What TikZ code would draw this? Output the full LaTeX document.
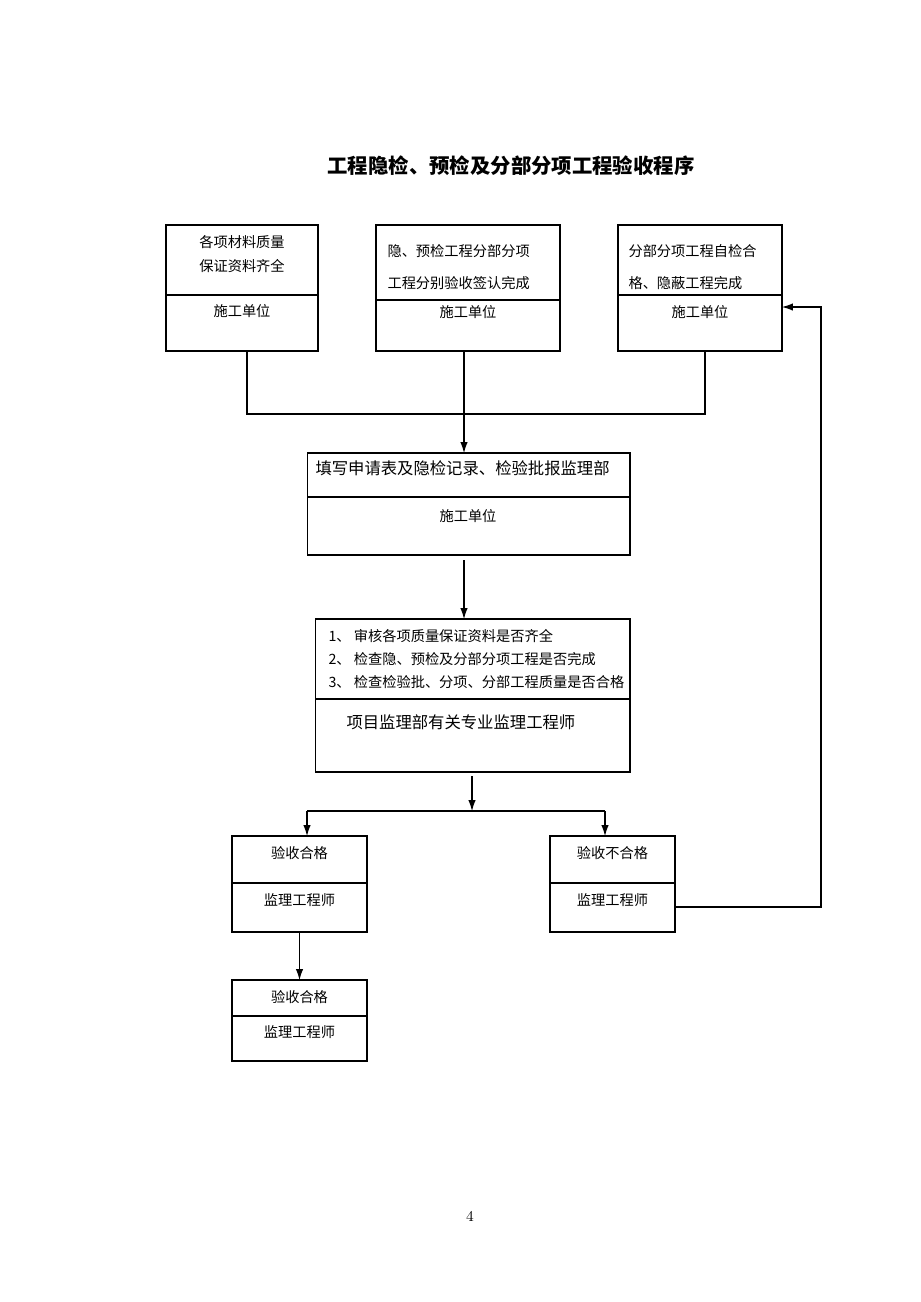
\documentclass[tikz,border=0pt]{standalone}
\usepackage{fontspec}
\usetikzlibrary{arrows.meta}
\newfontfamily\cjk{Noto Sans CJK SC}

\begin{document}
\begin{tikzpicture}[
  x=0.02cm, y=-0.02cm,
  box/.style={rectangle, draw, inner sep=0pt, outer sep=0pt},
  txt/.style={inner sep=0pt, font=\cjk\fontsize{8.1pt}{13.6pt}\selectfont},
  bigtxt/.style={inner sep=0pt, font=\cjk\fontsize{9.3pt}{13pt}\selectfont},
  >={Latex[length=2.2mm,width=1.5mm]},
  line width=0.6pt
]
\useasboundingbox (0,0) rectangle (920,1302);

% title
\node[font=\cjk\bfseries\fontsize{11.6pt}{13pt}\selectfont] (title) at (511,166) {工程隐检、预检及分部分项工程验收程序};

% top row
\node[box, minimum width=3.04cm, minimum height=2.52cm] (matl) at (242,288) {};
\node[box, minimum width=3.68cm, minimum height=2.52cm] (conf) at (468,288) {};
\node[box, minimum width=3.28cm, minimum height=2.52cm] (self) at (700,288) {};
\draw (matl.west |- 0,295) -- (matl.east |- 0,295);
\draw (conf.west |- 0,300) -- (conf.east |- 0,300);
\draw (self.west |- 0,295) -- (self.east |- 0,295);
\node[txt, align=center] (matlA) at (242,254) {各项材料质量\\保证资料齐全};
\node[txt] (matlB) at (242,311) {施工单位};
\node[txt, align=left, anchor=west, font=\cjk\fontsize{8.1pt}{18.1pt}\selectfont] (confA) at (387,267) {隐、预检工程分部分项\\工程分别验收签认完成};
\node[txt] (confB) at (468,312) {施工单位};
\node[txt, align=left, anchor=west, font=\cjk\fontsize{8.1pt}{18.1pt}\selectfont] (selfA) at (628,267) {分部分项工程自检合\\格、隐蔽工程完成};
\node[txt] (selfB) at (700,312) {施工单位};

% application
\node[box, minimum width=6.46cm, minimum height=2.04cm] (apply) at (468.5,504) {};
\draw (apply.west |- 0,497) -- (apply.east |- 0,497);
\node[bigtxt, anchor=west] (applyA) at (315,468) {填写申请表及隐检记录、检验批报监理部};
\node[txt] (applyB) at (468,516) {施工单位};

% check
\node[box, minimum width=6.30cm, minimum height=3.06cm] (check) at (472.5,695.5) {};
\draw (check.west |- 0,699) -- (check.east |- 0,699);
\node[txt, align=left, anchor=west, font=\cjk\fontsize{8.1pt}{13pt}\selectfont] (checkA) at (328,659) {1、\ 审核各项质量保证资料是否齐全\\2、\ 检查隐、预检及分部分项工程是否完成\\3、\ 检查检验批、分项、分部工程质量是否合格};
\node[bigtxt, anchor=west] (checkB) at (346,722) {项目监理部有关专业监理工程师};

% results
\node[box, minimum width=2.70cm, minimum height=1.92cm] (pass) at (299.5,884) {};
\node[box, minimum width=2.50cm, minimum height=1.92cm] (fail) at (612.5,884) {};
\node[box, minimum width=2.70cm, minimum height=1.62cm] (final) at (299.5,1020.5) {};
\draw (pass.west |- 0,883) -- (pass.east |- 0,883);
\draw (fail.west |- 0,883) -- (fail.east |- 0,883);
\draw (final.west |- 0,1016) -- (final.east |- 0,1016);
\node[txt] (passA) at (299.5,853) {验收合格};
\node[txt] (passB) at (299.5,900) {监理工程师};
\node[txt] (failA) at (612.5,853) {验收不合格};
\node[txt] (failB) at (612.5,900) {监理工程师};
\node[txt] (finalA) at (299.5,997) {验收合格};
\node[txt] (finalB) at (299.5,1032) {监理工程师};

% page number
\node[font=\fontsize{8.5pt}{10pt}\selectfont] (page) at (470,1216) {4};

% connectors
\coordinate (joinL) at (247,414);
\coordinate (joinM) at (464,414);
\coordinate (joinR) at (705,414);
\draw (joinL |- matl.south) -- (joinL) -- (joinR) -- (joinR |- self.south);
\draw[->] (joinM |- conf.south) -- (joinM |- apply.north);
\draw[->] (joinM |- 0,560) -- (joinM |- check.north);

\coordinate (split) at (472,811);
\coordinate (splitL) at (307,811);
\coordinate (splitR) at (605,811);
\draw[->] (split |- 0,776) -- (split);
\draw (splitL) -- (splitR);
\draw[->] (splitL) -- (splitL |- pass.north);
\draw[->] (splitR) -- (splitR |- fail.north);
\draw[->] (pass.south) -- (final.north);

\coordinate (backB) at (821,907);
\coordinate (backT) at (821,307);
\draw[->] (fail.east |- backB) -- (backB) -- (backT) -- (self.east |- backT);
\end{tikzpicture}
\end{document}
